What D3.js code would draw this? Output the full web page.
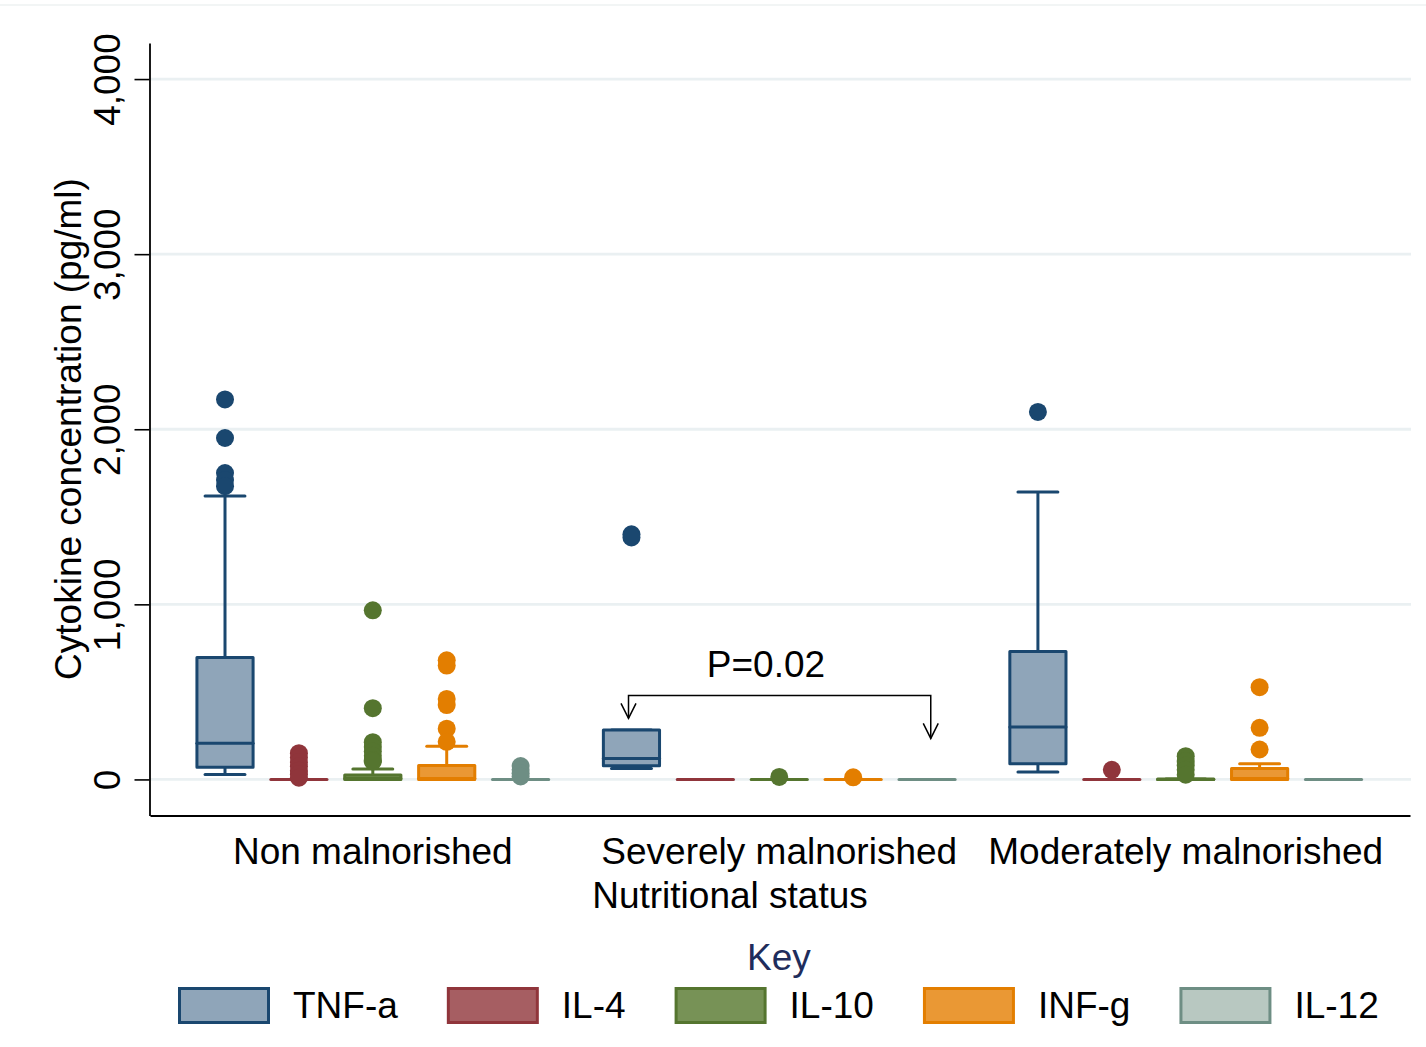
<!DOCTYPE html>
<html>
<head>
<meta charset="utf-8">
<script src="https://cdn.jsdelivr.net/npm/d3@7"></script>
<style>
  html, body { margin: 0; padding: 0; background: #fff; }
  svg { display: block; }
  text { font-family: "Liberation Sans", Arial, sans-serif; }
</style>
</head>
<body>
<svg id="chart" width="1426" height="1047"></svg>
<script>
// ---------- data ----------
const groups = ["Non malnorished", "Severely malnorished", "Moderately malnorished"];
const cytokines = ["TNF-a", "IL-4", "IL-10", "INF-g", "IL-12"];
const strokeColors = ["#1a476f", "#90353b", "#55752f", "#e37e00", "#6e8e84"];
const fillColors = ["#8fa5b9", "#a65e62", "#779256", "#ea9834", "#b8c8c1"];
const yTicks = [0, 1000, 2000, 3000, 4000];

// box statistics: one row per nutritional group, one column per cytokine (pg/ml)
const lowerWhisker = [[28, 0, 0, 0, 0], [62, 0, 0, 0, 0], [42, 0, 0, 0, 0]];
const q1 =           [[70, 0, 0, 0, 0], [78, 0, 0, 0, 0], [90, 0, 0, 0, 0]];
const median =       [[206, 0, 5, 5, 0], [120, 0, 0, 0, 0], [299, 0, 0, 5, 0]];
const q3 =           [[697, 0, 25, 80, 0], [283, 0, 0, 0, 0], [731, 0, 2, 62, 0]];
const upperWhisker = [[1619, 0, 60, 189, 0], [283, 0, 0, 0, 0], [1642, 0, 2, 90, 0]];
const outliers = [
  [[2170, 1950, 1750, 1710, 1675], [150, 125, 100, 75, 50, 30, 10], [966, 407, 213, 185, 160, 135, 110, 103], [680, 650, 460, 425, 290, 215], [76, 55, 35, 17]],
  [[1400, 1382], [], [14], [12], []],
  [[2099], [55], [133, 105, 80, 55, 27], [527, 295, 171], []]
];

// significance bracket (x in box-slot units, y in pg/ml)
const pLabel = "P=0.02";
const bracketX = [5.46, 9.55];
const bracketY = 480;
const bracketTips = [349, 234];
const pLabelAt = [7.32, 583];

// ---------- layout ----------
const svg = d3.select("#chart");
const font = "Liberation Sans, Arial, sans-serif";
const fs = 37;
const groupGap = 5.5;
const slot = (g, i) => g * groupGap + i;

const x = d3.scaleLinear().domain([-1.015, 16.035]).range([150, 1410]);
const y = d3.scaleLinear().domain([-206, 4206]).range([815.5, 43]);
const unit = x(1) - x(0);
const bw = unit * 0.76;
const cw = unit * 0.54;

// faint outer frame line at top
svg.append("line").attr("x1", 0).attr("x2", 1426).attr("y1", 5).attr("y2", 5)
  .attr("stroke", "#e6ebeb").attr("stroke-width", 1.2);

// gridlines
svg.append("g").selectAll("line").data(yTicks).join("line")
  .attr("x1", 150).attr("x2", 1411)
  .attr("y1", d => y(d)).attr("y2", d => y(d))
  .attr("stroke", "#eaf0f2").attr("stroke-width", 2.8);

// y axis
const yAxis = svg.append("g").attr("transform", "translate(149.5,0)")
  .call(d3.axisLeft(y).tickValues(yTicks).tickFormat(d3.format(",")).tickSize(15).tickSizeOuter(0));
yAxis.select(".domain").attr("stroke", "#000").attr("stroke-width", 1.8);
yAxis.selectAll(".tick line").attr("stroke", "#000").attr("stroke-width", 1.6);
yAxis.selectAll(".tick text")
  .attr("transform", "rotate(-90)")
  .attr("x", 0).attr("y", -29.5).attr("dy", 0)
  .attr("text-anchor", "middle")
  .attr("font-family", font).attr("font-size", fs).attr("fill", "#000");

// x axis
const xAxis = svg.append("g").attr("transform", "translate(0,815.5)")
  .call(d3.axisBottom(x).tickValues([]).tickSizeOuter(0));
xAxis.select(".domain").attr("stroke", "#000").attr("stroke-width", 1.8);

// y title
svg.append("text")
  .attr("transform", "translate(81,429) rotate(-90)")
  .attr("text-anchor", "middle")
  .attr("font-family", font).attr("font-size", fs).attr("fill", "#000")
  .text("Cytokine concentration (pg/ml)");

// group labels
svg.append("g").selectAll("text").data(groups).join("text")
  .attr("x", (d, g) => x(slot(g, 2)))
  .attr("y", 864)
  .attr("text-anchor", "middle")
  .attr("font-family", font).attr("font-size", fs).attr("fill", "#000")
  .text(d => d);

svg.append("text").attr("x", 730).attr("y", 908).attr("text-anchor", "middle")
  .attr("font-family", font).attr("font-size", fs).attr("fill", "#000")
  .text("Nutritional status");

// ---------- boxes ----------
const boxes = [];
groups.forEach((gname, g) => {
  cytokines.forEach((c, i) => {
    boxes.push({ g, i, lw: lowerWhisker[g][i], q1: q1[g][i], med: median[g][i], q3: q3[g][i], uw: upperWhisker[g][i], out: outliers[g][i] });
  });
});

const bg = svg.append("g");
boxes.forEach(b => {
  const cx = x(slot(b.g, b.i));
  const col = strokeColors[b.i];
  const gg = bg.append("g");
  // whiskers
  gg.append("line").attr("x1", cx).attr("x2", cx).attr("y1", y(b.q3)).attr("y2", y(b.uw))
    .attr("stroke", col).attr("stroke-width", 3);
  gg.append("line").attr("x1", cx).attr("x2", cx).attr("y1", y(b.q1)).attr("y2", y(b.lw))
    .attr("stroke", col).attr("stroke-width", 3);
  [b.uw, b.lw].forEach(v => {
    gg.append("line").attr("x1", cx - cw / 2).attr("x2", cx + cw / 2).attr("y1", y(v)).attr("y2", y(v))
      .attr("stroke", col).attr("stroke-width", 3).attr("stroke-linecap", "round");
  });
  // box
  gg.append("rect").attr("x", cx - bw / 2).attr("width", bw)
    .attr("y", y(b.q3)).attr("height", Math.max(0, y(b.q1) - y(b.q3)))
    .attr("fill", fillColors[b.i]).attr("stroke", col).attr("stroke-width", 3)
    .attr("stroke-linejoin", "round");
  gg.append("line").attr("x1", cx - bw / 2).attr("x2", cx + bw / 2).attr("y1", y(b.med)).attr("y2", y(b.med))
    .attr("stroke", col).attr("stroke-width", 3).attr("stroke-linecap", "round");
  // outliers
  gg.selectAll("circle").data(b.out).join("circle")
    .attr("cx", cx).attr("cy", d => y(d)).attr("r", 9)
    .attr("fill", col);
});

// ---------- significance bracket ----------
const ann = svg.append("g").attr("stroke", "#000").attr("stroke-width", 1.5).attr("fill", "none");
const bx1 = x(bracketX[0]), bx2 = x(bracketX[1]), by = y(bracketY);
ann.append("path").attr("d", `M${bx1},${y(bracketTips[0])}V${by}H${bx2}V${y(bracketTips[1])}`);
[[bx1, y(bracketTips[0])], [bx2, y(bracketTips[1])]].forEach(([ax, ay]) => {
  ann.append("path").attr("d", `M${ax - 7.5},${ay - 15}L${ax},${ay}L${ax + 7.5},${ay - 15}`);
});
svg.append("text").attr("x", x(pLabelAt[0])).attr("y", y(pLabelAt[1]))
  .attr("text-anchor", "middle")
  .attr("font-family", font).attr("font-size", fs).attr("fill", "#000")
  .text(pLabel);

// ---------- legend ----------
svg.append("text").attr("x", 779).attr("y", 970).attr("text-anchor", "middle")
  .attr("font-family", font).attr("font-size", fs).attr("fill", "#1f2d5c")
  .text("Key");

const leg = svg.append("g");
let lx = 178;
cytokines.forEach((c, i) => {
  leg.append("rect").attr("x", lx + 1.5).attr("y", 988.5).attr("width", 89).attr("height", 34)
    .attr("fill", fillColors[i]).attr("stroke", strokeColors[i]).attr("stroke-width", 3);
  const t = leg.append("text").attr("x", lx + 115).attr("y", 1018)
    .attr("font-family", font).attr("font-size", fs).attr("fill", "#000")
    .text(c);
  lx += 115 + t.node().getComputedTextLength() + 49;
});
</script>
</body>
</html>
